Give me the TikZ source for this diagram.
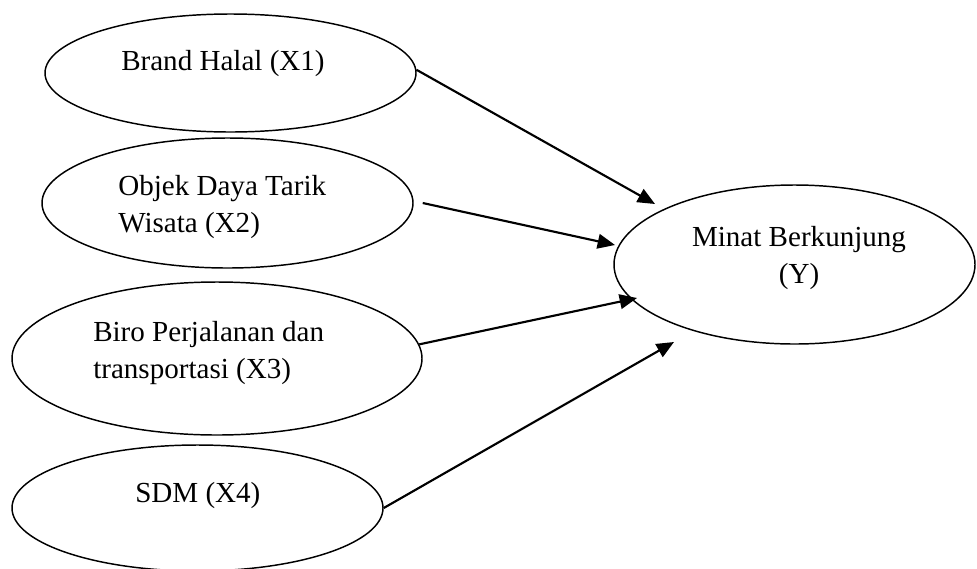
\documentclass[tikz,border=0pt]{standalone}
\usepackage{fontspec}
\setmainfont{Liberation Serif}
\usetikzlibrary{arrows.meta,shapes.geometric}
\begin{document}
\begin{tikzpicture}[x=0.75pt,y=-0.75pt,
  oval/.style={draw,ellipse,line width=1.1pt,inner sep=0pt},
  lbl/.style={inner sep=0pt,align=left,font=\fontsize{21.8}{27.75}\selectfont},
  arr/.style={line width=1.6pt,-{Triangle[length=13pt,width=11pt]}}]
\useasboundingbox (0,0) rectangle (977,568);
% ellipses
\node[oval,minimum width=278.25pt,minimum height=88.5pt] (e1) at (230.5,73) {};
\node[oval,minimum width=278.25pt,minimum height=97.5pt] (e2) at (227.5,203) {};
\node[oval,minimum width=307.5pt,minimum height=114.75pt] (e3) at (217,358.5) {};
\node[oval,minimum width=278.25pt,minimum height=94.5pt] (e4) at (197.5,508) {};
\node[oval,minimum width=270.75pt,minimum height=119.25pt] (ey) at (794.5,264.5) {};
% labels (base anchor = baseline of the last line)
\node[lbl,anchor=base west] (t1) at (121,70) {Brand Halal (X1)};
\node[lbl,anchor=base west] (t2) at (118,232) {Objek Daya Tarik\\Wisata (X2)};
\node[lbl,anchor=base west] (t3) at (93,378) {Biro Perjalanan dan\\transportasi (X3)};
\node[lbl,anchor=base west] (t4) at (135,502) {SDM (X4)};
\node[lbl,align=center,anchor=base] (ty) at (799,283) {Minat Berkunjung\\(Y)};
% arrow tips
\coordinate (p1) at (655,204);
\coordinate (p2) at (615,245);
\coordinate (p3) at (637,298);
\coordinate (p4) at (674,342);
\draw[arr] (e1.1) -- (p1);
\draw[arr] ([xshift=6.75pt]e2.east) -- (p2);
\draw[arr] (e3.4) -- (p3);
\draw[arr] (e4.east) -- (p4);
\end{tikzpicture}
\end{document}
